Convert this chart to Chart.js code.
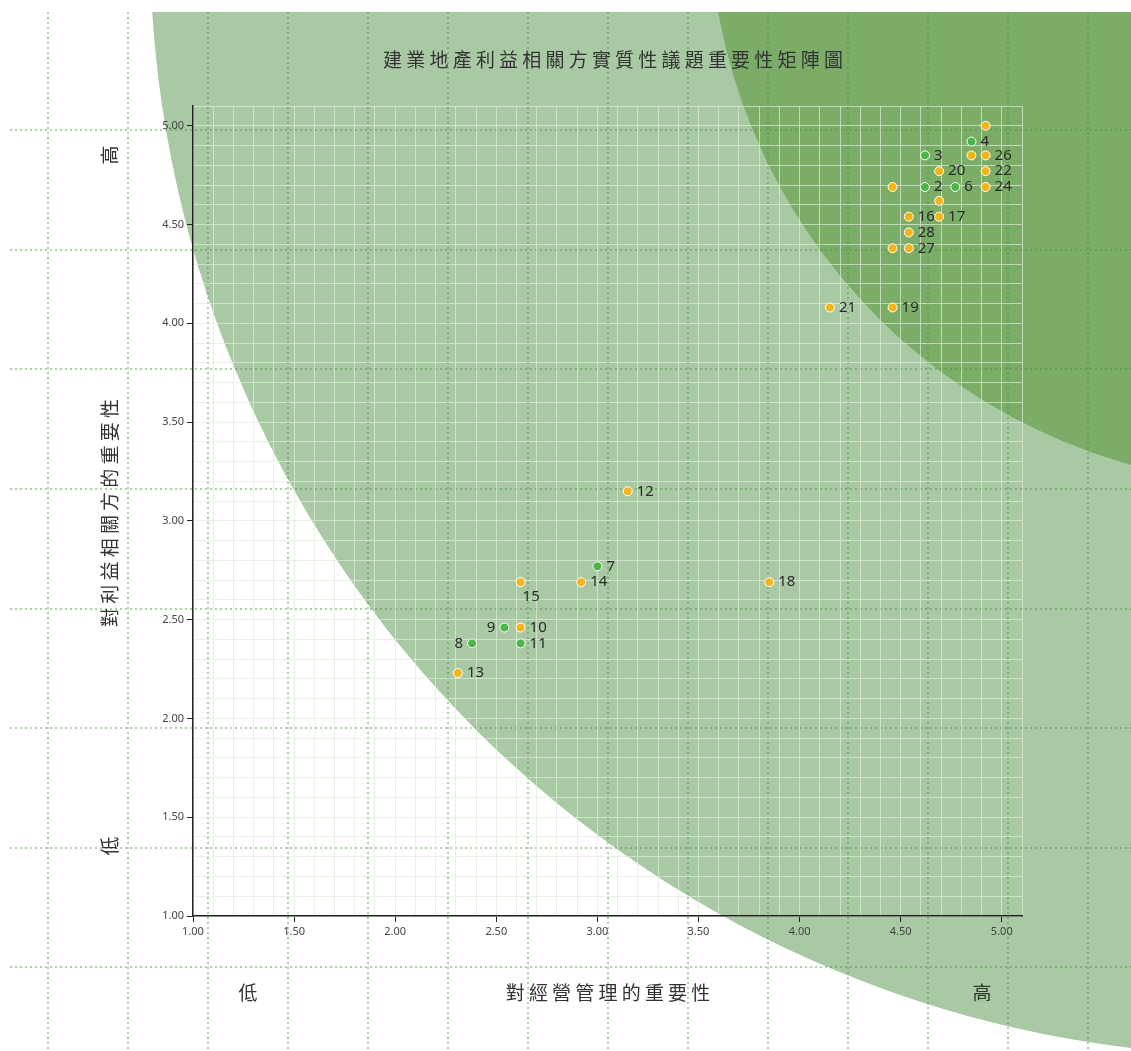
<!DOCTYPE html>
<html>
<head>
<meta charset="utf-8">
<title>建業地產利益相關方實質性議題重要性矩陣圖</title>
<script src="https://cdn.jsdelivr.net/npm/chart.js@4.4.1/dist/chart.umd.min.js"></script>
<style>
  html, body { margin: 0; padding: 0; background: #fff; }
  #wrap { position: relative; width: 1131px; height: 1051px; }
  #wrap canvas { position: absolute; left: 0; top: 0; }
</style>
</head>
<body>
<div id="wrap">
  <canvas id="bg" width="1131" height="1051"></canvas>
  <canvas id="matrix" width="1131" height="1051"></canvas>
</div>
<script>
/* ── Data ──────────────────────────────────── */
// green topics
const greenIds = ['4', '3', '2', '6', '7', '9', '8', '11'];
const greenX   = [4.85, 4.62, 4.62, 4.77, 3.00, 2.54, 2.38, 2.62];
const greenY   = [4.92, 4.85, 4.69, 4.69, 2.77, 2.46, 2.38, 2.38];

// orange topics ('' = no label shown)
const orangeIds = ['', '', '26', '20', '22', '', '24', '', '16', '17', '28', '', '27', '21', '19', '12', '15', '14', '18', '10', '13'];
const orangeX   = [4.92, 4.85, 4.92, 4.69, 4.92, 4.46, 4.92, 4.69, 4.54, 4.69, 4.54, 4.46, 4.54, 4.15, 4.46, 3.15, 2.62, 2.92, 3.85, 2.62, 2.31];
const orangeY   = [5.00, 4.85, 4.85, 4.77, 4.77, 4.69, 4.69, 4.62, 4.54, 4.54, 4.46, 4.38, 4.38, 4.08, 4.08, 3.15, 2.69, 2.69, 2.69, 2.46, 2.23];

// background dotted grid ticks
const bgXTicks = [0, 1, 2, 3, 4, 5, 6, 7, 8, 9, 10, 11, 12, 13];
const bgYTicks = [0, 1, 2, 3, 4, 5, 6, 7];

/* ── Texts ─────────────────────────────────── */
const TITLE  = '建業地產利益相關方實質性議題重要性矩陣圖';
const XTITLE = '對經營管理的重要性';
const YTITLE = '對利益相關方的重要性';
const LOW = '低', HIGH = '高';

const leftLabels  = ['8', '9'];
const belowLabels = ['15'];

Chart.defaults.font.family = "'Noto Sans', 'Noto Sans CJK TC', sans-serif";

/* ── Background: zones + dotted grid ───────── */
const zones = [
  { cx: 15.19, cy: 8.567, r: 13.91, color: '#a9c9a4' },
  { cx: 15.45, cy: 8.835, r: 7.18,  color: '#7bad69' },
];

const zonePlugin = {
  id: 'zones',
  beforeDraw(chart) {
    const { ctx, chartArea: a, scales: { x, y } } = chart;
    ctx.save();
    ctx.beginPath();
    ctx.rect(a.left, a.top, a.right - a.left, a.bottom - a.top);
    ctx.clip();
    zones.forEach(z => {
      const px = x.getPixelForValue(z.cx);
      const py = y.getPixelForValue(z.cy);
      const pr = x.getPixelForValue(z.cx + z.r) - px;
      ctx.fillStyle = z.color;
      ctx.beginPath();
      ctx.arc(px, py, pr, 0, Math.PI * 2);
      ctx.fill();
    });
    ctx.restore();
  }
};

const dotted = {
  grid:   { color: 'rgba(60,145,50,0.42)', lineWidth: 2, drawTicks: false },
  border: { display: false, dash: [2, 3] },
  ticks:  { display: false },
};

new Chart(document.getElementById('bg'), {
  type: 'scatter',
  data: { datasets: [] },
  options: {
    responsive: false,
    animation: false,
    layout: { padding: { left: 10, top: 12, right: 0, bottom: 0 } },
    plugins: { legend: { display: false }, tooltip: { enabled: false } },
    scales: {
      x: { ...dotted, type: 'linear', min: -0.4713, max: 13.541,
           afterBuildTicks: s => { s.ticks = bgXTicks.map(v => ({ value: v })); },
           afterFit: s => { s.height = 0; } },
      y: { ...dotted, type: 'linear', min: -0.70, max: 7.99,
           afterBuildTicks: s => { s.ticks = bgYTicks.map(v => ({ value: v })); },
           afterFit: s => { s.width = 0; } },
    }
  },
  plugins: [zonePlugin]
});

/* ── Matrix chart ──────────────────────────── */
const isHalf = v => Math.abs(v * 2 - Math.round(v * 2)) < 1e-6;
const tickLabel = v => isHalf(v) ? Number(v).toFixed(2) : '';

function spacedText(ctx, str, cx, cy, adv) {
  const chars = [...str];
  const start = cx - adv * (chars.length - 1) / 2;
  chars.forEach((c, i) => ctx.fillText(c, start + i * adv, cy));
}

const labelPlugin = {
  id: 'pointLabels',
  afterDatasetsDraw(chart) {
    const ctx = chart.ctx;
    const ids = [greenIds, orangeIds];
    ctx.save();
    ctx.font = "15px 'Noto Sans', sans-serif";
    ctx.fillStyle = '#2b2b2b';
    ctx.textBaseline = 'middle';
    chart.data.datasets.forEach((ds, di) => {
      chart.getDatasetMeta(di).data.forEach((pt, i) => {
        const t = ids[di][i];
        if (!t) return;
        if (leftLabels.includes(t)) {
          ctx.textAlign = 'right';
          ctx.fillText(t, pt.x - 9, pt.y);
        } else if (belowLabels.includes(t)) {
          ctx.textAlign = 'left';
          ctx.fillText(t, pt.x + 2, pt.y + 15);
        } else {
          ctx.textAlign = 'left';
          ctx.fillText(t, pt.x + 9, pt.y);
        }
      });
    });
    ctx.restore();
  }
};

const textPlugin = {
  id: 'texts',
  afterDraw(chart) {
    const ctx = chart.ctx;
    ctx.save();
    ctx.font = "19px 'Noto Sans CJK TC', sans-serif";
    ctx.fillStyle = '#333';
    ctx.textAlign = 'center';
    ctx.textBaseline = 'middle';
    spacedText(ctx, TITLE, 613, 60, 23.2);
    spacedText(ctx, XTITLE, 608, 993, 23.2);
    ctx.fillText(LOW, 248, 993);
    ctx.fillText(HIGH, 982, 993);

    ctx.translate(110, 0);
    ctx.rotate(-Math.PI / 2);
    spacedText(ctx, YTITLE, -513, 0, 23.2);
    ctx.fillText(HIGH, -155, 0);
    ctx.fillText(LOW, -846, 0);
    ctx.restore();
  }
};

const gridColor = 'rgba(222,236,217,0.7)';

const axis = {
  type: 'linear',
  min: 1,
  max: 5.1,
  ticks: { stepSize: 0.1, autoSkip: false, maxRotation: 0, callback: tickLabel,
           color: '#444', font: { size: 11 }, padding: 3 },
  grid: { color: gridColor, lineWidth: 1, tickLength: 6,
          tickColor: c => (c.tick && isHalf(c.tick.value)) ? '#222' : 'rgba(0,0,0,0)' },
  border: { color: '#222', width: 1.5 },
};

new Chart(document.getElementById('matrix'), {
  type: 'scatter',
  data: {
    datasets: [
      { label: 'green',  data: greenX.map((x, i) => ({ x, y: greenY[i] })),
        backgroundColor: '#4db648', borderColor: '#fff', borderWidth: 1, pointRadius: 4.5 },
      { label: 'orange', data: orangeX.map((x, i) => ({ x, y: orangeY[i] })),
        backgroundColor: '#f4b41a', borderColor: '#fff', borderWidth: 1, pointRadius: 4.5 },
    ]
  },
  options: {
    responsive: false,
    animation: false,
    layout: { padding: { left: 0, top: 106, right: 109, bottom: 0 } },
    plugins: { legend: { display: false }, tooltip: { enabled: false } },
    scales: {
      x: { ...axis, afterFit: s => { s.height = 135; } },
      y: { ...axis, afterFit: s => { s.width = 193; } },
    }
  },
  plugins: [labelPlugin, textPlugin]
});
</script>
</body>
</html>
